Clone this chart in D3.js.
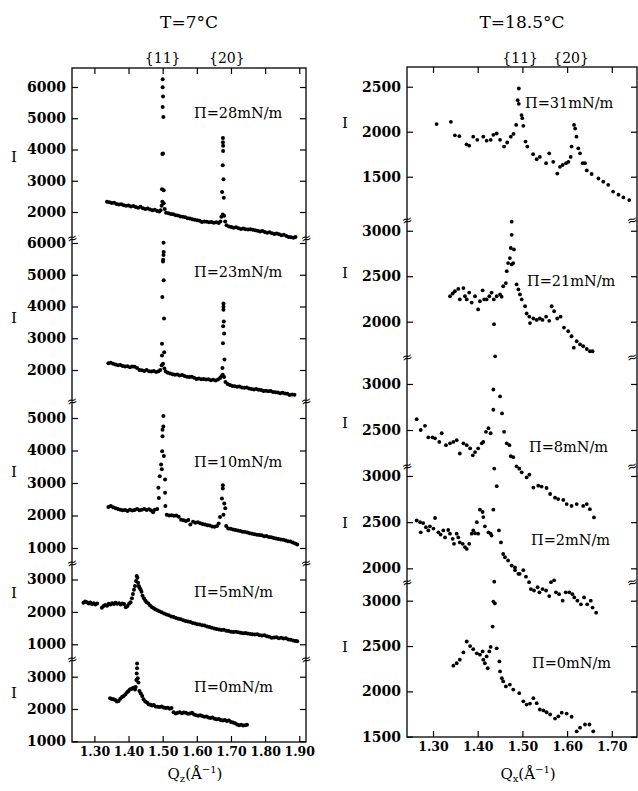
<!DOCTYPE html>
<html>
<head>
<meta charset="utf-8">
<script src="https://cdnjs.cloudflare.com/ajax/libs/d3/7.8.5/d3.min.js"></script>
<style>
body { margin: 0; background: #fff; }
text { font-family: "DejaVu Serif", serif; fill: #000; }
.ytk text { font-size: 14px; font-weight: bold; }
.xtk text { font-size: 12.5px; font-weight: bold; }
</style>
</head>
<body>
<svg id="fig" width="638" height="791"></svg>
<script>
// ---- data: [Qz, I] ----
var t7_p28 = [
[1.337,2330],[1.344,2310],[1.351,2290],[1.358,2300],[1.365,2260],[1.372,2240],[1.379,2250],[1.386,2220],[1.393,2200],[1.400,2210],
[1.407,2180],[1.414,2190],[1.421,2160],[1.428,2140],[1.435,2170],[1.442,2120],[1.449,2100],[1.456,2110],[1.463,2080],[1.470,2060],
[1.477,2070],[1.484,2030],[1.490,2020],[1.494,2060],[1.497,2200],[1.499,2330],[1.503,2280],[1.506,2100],
[1.498,2730],[1.503,2700],[1.499,3860],[1.501,3870],[1.502,5040],[1.500,5360],[1.501,5700],[1.500,5990],[1.500,6250],
[1.510,1980],[1.517,1960],[1.524,1940],[1.531,1930],[1.538,1900],[1.545,1890],[1.552,1860],[1.559,1850],[1.566,1830],[1.573,1800],
[1.580,1790],[1.587,1770],[1.594,1750],[1.601,1740],[1.608,1720],[1.615,1680],[1.622,1700],[1.629,1690],[1.636,1670],[1.643,1680],
[1.650,1660],[1.657,1670],[1.664,1650],[1.669,1700],[1.672,1850],[1.676,1920],[1.680,1880],[1.683,1700],
[1.674,2640],[1.679,2460],[1.678,3050],[1.676,3500],[1.677,3950],[1.677,4120],[1.6765,4230],[1.6765,4370],
[1.687,1580],[1.694,1540],[1.701,1520],[1.708,1500],[1.715,1510],[1.722,1480],[1.729,1460],[1.736,1470],[1.743,1450],[1.750,1440],
[1.757,1450],[1.764,1430],[1.771,1420],[1.778,1400],[1.785,1380],[1.792,1390],[1.799,1360],[1.806,1340],[1.813,1350],[1.820,1320],
[1.827,1300],[1.834,1310],[1.841,1290],[1.848,1260],[1.855,1270],[1.862,1230],[1.869,1200],[1.876,1190],[1.883,1180],[1.889,1200]
];
var t7_p23 = [
[1.341,2210],[1.348,2230],[1.355,2200],[1.362,2170],[1.369,2150],[1.376,2160],[1.383,2130],[1.390,2110],[1.397,2120],[1.404,2090],
[1.411,2110],[1.418,2100],[1.425,2060],[1.432,2000],[1.439,1990],[1.446,1970],[1.453,2000],[1.460,1960],[1.467,1950],[1.474,1970],
[1.481,1940],[1.488,1960],[1.493,2000],[1.497,2150],[1.501,2200],[1.505,2050],
[1.498,2460],[1.5045,2560],[1.498,2830],[1.504,3620],[1.499,4300],[1.503,4830],[1.501,5420],[1.5015,5470],[1.5025,5620],[1.503,5720],[1.5025,6010],
[1.509,1950],[1.515,1910],[1.522,1890],[1.529,1870],[1.536,1850],[1.543,1860],[1.550,1830],[1.557,1840],[1.564,1810],[1.571,1790],
[1.578,1780],[1.585,1790],[1.592,1760],[1.599,1720],[1.606,1730],[1.613,1710],[1.620,1720],[1.627,1700],[1.634,1710],[1.641,1680],
[1.648,1690],[1.655,1670],[1.662,1700],[1.668,1750],[1.672,1800],[1.676,1850],[1.680,1780],[1.684,1620],
[1.675,2060],[1.681,2330],[1.6765,2840],[1.680,3150],[1.677,3380],[1.679,3530],[1.678,3900],[1.678,3990],[1.678,4095],
[1.690,1560],[1.697,1530],[1.704,1500],[1.711,1490],[1.718,1470],[1.725,1480],[1.732,1450],[1.739,1440],[1.746,1450],[1.753,1420],
[1.760,1400],[1.767,1390],[1.774,1400],[1.781,1380],[1.788,1370],[1.795,1340],[1.802,1350],[1.809,1330],[1.816,1340],[1.823,1310],
[1.830,1300],[1.837,1290],[1.844,1270],[1.851,1280],[1.858,1260],[1.865,1250],[1.872,1210],[1.879,1230],[1.886,1220]
];
var t7_p10 = [
[1.341,2260],[1.348,2290],[1.355,2250],[1.362,2220],[1.369,2200],[1.376,2180],[1.383,2160],[1.390,2170],[1.397,2140],[1.404,2180],
[1.411,2150],[1.418,2170],[1.425,2200],[1.432,2160],[1.439,2180],[1.446,2200],[1.453,2170],[1.460,2190],[1.466,2150],[1.472,2100],
[1.477,2180],[1.484,2200],[1.4888,2540],[1.4875,2850],[1.4915,3210],[1.4955,3570],[1.4975,3420],[1.4985,3980],[1.4995,4440],
[1.4995,4640],[1.502,4740],[1.502,5060],[1.5035,3830],[1.507,3110],[1.507,2700],[1.508,2290],
[1.512,2020],[1.519,2000],[1.526,2010],[1.533,1990],[1.540,2000],[1.547,1960],[1.554,1870],[1.561,1850],[1.568,1830],[1.581,1720],
[1.575,1860],[1.589,1810],[1.596,1780],[1.603,1790],[1.610,1760],[1.617,1740],[1.624,1720],[1.631,1700],[1.638,1690],[1.645,1660],
[1.652,1650],[1.659,1680],[1.664,1750],[1.668,1950],[1.678,2020],[1.6833,2220],[1.6804,2370],[1.6735,2520],[1.676,2830],[1.6763,2930],
[1.686,1680],[1.692,1600],[1.699,1590],[1.706,1570],[1.713,1550],[1.720,1540],[1.727,1520],[1.734,1500],[1.741,1490],[1.748,1480],
[1.755,1450],[1.762,1440],[1.769,1420],[1.776,1410],[1.783,1400],[1.790,1390],[1.797,1360],[1.804,1370],[1.811,1340],[1.818,1330],
[1.825,1310],[1.832,1290],[1.839,1280],[1.846,1260],[1.853,1250],[1.860,1230],[1.867,1210],[1.874,1200],[1.881,1170],[1.888,1140],[1.894,1110]
];
var t7_p5 = [
[1.268,2280],[1.273,2320],[1.278,2300],[1.283,2260],[1.288,2290],[1.293,2240],[1.298,2270],[1.303,2230],[1.308,2260],[1.322,2130],
[1.327,2180],[1.332,2210],[1.337,2190],[1.342,2250],[1.347,2230],[1.352,2270],[1.357,2240],[1.362,2280],[1.367,2250],[1.372,2270],
[1.377,2230],[1.382,2260],[1.387,2240],[1.392,2140],[1.397,2180],[1.402,2260],[1.406,2300],[1.410,2420],[1.413,2550],[1.416,2680],
[1.419,2800],[1.422,2950],[1.424,3110],[1.426,3050],[1.428,2900],[1.430,2800],[1.432,2750],[1.435,2700],[1.438,2620],[1.441,2500],
[1.445,2420],[1.449,2350],[1.453,2300],[1.458,2260],[1.463,2200],[1.468,2150],[1.473,2120],[1.478,2080],[1.484,2050],[1.490,2020],
[1.497,1990],[1.504,1950],[1.511,1920],[1.518,1900],[1.525,1860],[1.532,1840],[1.539,1810],[1.546,1790],[1.553,1770],[1.560,1740],
[1.567,1720],[1.574,1700],[1.581,1690],[1.588,1660],[1.595,1640],[1.602,1620],[1.609,1610],[1.616,1590],[1.623,1580],[1.630,1550],
[1.637,1530],[1.644,1510],[1.651,1490],[1.658,1470],[1.665,1460],[1.672,1440],[1.679,1450],[1.686,1420],[1.693,1410],[1.700,1390],
[1.707,1380],[1.714,1390],[1.721,1370],[1.728,1360],[1.735,1340],[1.742,1350],[1.749,1330],[1.756,1320],[1.763,1310],[1.770,1300],
[1.777,1310],[1.784,1280],[1.791,1270],[1.798,1280],[1.805,1250],[1.812,1230],[1.819,1200],[1.826,1210],[1.833,1220],[1.840,1190],
[1.847,1200],[1.854,1180],[1.861,1190],[1.868,1150],[1.875,1140],[1.882,1120],[1.889,1100],[1.894,1090]
];
var t7_p0 = [
[1.346,2330],[1.351,2310],[1.356,2300],[1.361,2280],[1.366,2230],[1.371,2250],[1.376,2320],[1.381,2370],[1.386,2400],[1.391,2460],
[1.396,2520],[1.400,2560],[1.404,2600],[1.408,2620],[1.412,2640],[1.416,2660],[1.419,2600],[1.421,2680],[1.423,2900],[1.424,3100],
[1.425,3260],[1.425,3410],[1.427,2950],[1.429,2820],[1.432,2560],[1.436,2480],[1.440,2400],[1.444,2300],[1.449,2230],[1.454,2200],
[1.459,2150],[1.464,2130],[1.469,2110],[1.474,2120],[1.479,2080],[1.485,2070],[1.491,2060],[1.497,2080],[1.503,2050],[1.509,2030],
[1.515,2040],[1.521,2010],[1.526,2030],[1.532,1900],[1.538,1860],[1.544,1880],[1.550,1900],[1.556,1870],[1.562,1890],[1.568,1880],
[1.574,1850],[1.580,1860],[1.586,1880],[1.592,1830],[1.598,1810],[1.604,1790],[1.610,1810],[1.616,1780],[1.622,1760],[1.628,1770],
[1.634,1740],[1.640,1720],[1.646,1740],[1.652,1700],[1.658,1680],[1.664,1690],[1.670,1660],[1.676,1640],[1.682,1660],[1.688,1630],
[1.694,1640],[1.700,1600],[1.706,1580],[1.712,1560],[1.718,1520],[1.724,1500],[1.730,1510],[1.736,1490],[1.742,1500],[1.747,1510]
];

var t185_p31 = [
[1.308,2085],[1.340,2110],[1.349,1960],[1.359,1950],[1.375,1860],[1.381,1845],[1.390,1945],[1.399,1910],[1.4125,1945],[1.420,1900],
[1.429,1910],[1.435,1965],[1.4425,1980],[1.450,1910],[1.459,1835],[1.466,1880],[1.474,1945],[1.480,1975],[1.486,2075],[1.492,2480],
[1.4895,2350],[1.492,2310],[1.498,2185],[1.4998,2150],[1.502,2065],[1.507,1890],[1.511,1835],[1.524,1750],[1.532,1695],[1.539,1720],
[1.553,1650],[1.560,1760],[1.569,1665],[1.578,1535],[1.584,1610],[1.590,1630],[1.5975,1650],[1.603,1665],[1.608,1720],[1.610,1835],
[1.6155,2075],[1.618,2035],[1.621,1945],[1.625,1815],[1.629,1760],[1.635,1650],[1.640,1650],[1.644,1570],[1.655,1530],[1.670,1480],
[1.681,1445],[1.692,1410],[1.703,1335],[1.715,1300],[1.726,1270],[1.739,1240]
];
var t185_p21 = [
[1.338,2280],[1.344,2310],[1.349,2335],[1.3565,2360],[1.360,2245],[1.368,2370],[1.3715,2280],[1.3755,2245],[1.381,2320],[1.3865,2210],
[1.394,2280],[1.401,2135],[1.405,2225],[1.411,2345],[1.4145,2245],[1.420,2245],[1.426,2280],[1.431,2320],[1.436,2245],[1.4425,2280],
[1.450,2300],[1.4535,2275],[1.457,2390],[1.463,2425],[1.465,2555],[1.468,2645],[1.472,2700],[1.476,2630],[1.4795,2645],[1.474,2810],
[1.481,2795],[1.476,2955],[1.476,3100],[1.487,2410],[1.491,2355],[1.4945,2300],[1.4985,2245],[1.506,2170],[1.5095,2090],[1.5155,2055],
[1.517,1985],[1.5245,2035],[1.532,2020],[1.539,2035],[1.545,2020],[1.553,2055],[1.560,2010],[1.5655,2170],[1.571,2115],[1.578,2035],
[1.5855,2055],[1.593,1935],[1.6025,1895],[1.610,1840],[1.615,1715],[1.6215,1785],[1.629,1750],[1.636,1730],[1.644,1700],[1.651,1675],[1.657,1675]
];
var t185_p8 = [
[1.2635,2618],[1.2725,2500],[1.282,2545],[1.2895,2420],[1.299,2420],[1.3045,2410],[1.314,2370],[1.3195,2465],[1.329,2335],[1.338,2355],
[1.3455,2370],[1.353,2390],[1.360,2245],[1.368,2355],[1.3755,2335],[1.383,2300],[1.389,2225],[1.394,2260],[1.401,2300],[1.409,2355],
[1.4125,2370],[1.4185,2480],[1.424,2520],[1.429,2465],[1.435,2720],[1.435,2940],[1.4365,3650],[1.439,3300],[1.450,2865],[1.4545,2680],
[1.459,2480],[1.465,2355],[1.471,2335],[1.474,2215],[1.4795,2205],[1.487,2105],[1.493,2080],[1.4985,2040],[1.5095,1985],[1.5155,2015],
[1.5245,1875],[1.5355,1895],[1.543,1885],[1.554,1870],[1.562,1805],[1.573,1765],[1.580,1750],[1.5915,1740],[1.599,1695],[1.610,1675],
[1.6215,1695],[1.636,1675],[1.644,1695],[1.651,1640],[1.660,1550]
];
var t185_p2 = [
[1.2635,2518],[1.271,2500],[1.2725,2390],[1.278,2490],[1.284,2445],[1.2895,2410],[1.293,2455],[1.3045,2545],[1.301,2430],[1.312,2390],
[1.317,2365],[1.323,2410],[1.327,2335],[1.334,2415],[1.338,2375],[1.344,2320],[1.347,2265],[1.353,2375],[1.3565,2335],[1.360,2280],
[1.3665,2265],[1.3715,2230],[1.3755,2210],[1.381,2265],[1.3865,2375],[1.390,2410],[1.394,2380],[1.398,2500],[1.401,2375],[1.405,2635],
[1.411,2610],[1.4125,2555],[1.416,2455],[1.424,2390],[1.429,2375],[1.431,2355],[1.437,3080],[1.4425,2890],[1.435,2635],[1.4475,2410],
[1.452,2280],[1.457,2155],[1.461,2120],[1.468,2085],[1.476,2030],[1.4835,2010],[1.491,1940],[1.4835,1980],[1.494,1940],[1.502,1980],
[1.508,1910],[1.515,1850],[1.519,1775],[1.526,1760],[1.534,1795],[1.538,1740],[1.545,1775],[1.553,1760],[1.560,1700],[1.564,1850],
[1.571,1870],[1.575,1740],[1.582,1720],[1.590,1650],[1.597,1740],[1.605,1740],[1.612,1720],[1.616,1685],[1.623,1650],[1.631,1610],
[1.638,1685],[1.645,1610],[1.653,1650],[1.657,1575],[1.665,1520]
];
var t185_p0 = [
[1.3455,2283],[1.353,2310],[1.360,2350],[1.368,2430],[1.3755,2550],[1.383,2500],[1.390,2465],[1.398,2420],[1.405,2405],[1.411,2440],
[1.4125,2350],[1.416,2310],[1.420,2385],[1.4225,2255],[1.426,2440],[1.429,2490],[1.4335,2715],[1.435,2990],[1.4385,2970],[1.437,3210],
[1.4425,2475],[1.4485,2330],[1.450,2220],[1.454,2145],[1.457,2110],[1.463,2055],[1.472,2075],[1.4795,2020],[1.493,1980],[1.502,1890],
[1.5095,1855],[1.517,1865],[1.5245,1925],[1.532,1870],[1.539,1800],[1.547,1790],[1.554,1770],[1.562,1745],[1.573,1700],[1.5805,1725],
[1.588,1765],[1.599,1755],[1.610,1720],[1.6215,1560],[1.629,1600],[1.640,1635],[1.650,1635],[1.6585,1560]
];

var qTicksL = [1.30, 1.40, 1.50, 1.60, 1.70, 1.80, 1.90];
var qTicksR = [1.30, 1.40, 1.50, 1.60, 1.70];
var tagsL = [["{11}", 1.500], ["{20}", 1.688]];
var tagsR = [["{11}", 1.495], ["{20}", 1.609]];

// ---- layout ----
var svg = d3.select("#fig");

var columns = [
  { title: "T=7\u00B0C", sub: "z", x0: 72, x1: 306, dom: [1.2345, 1.9197], ticks: qTicksL, tags: tagsL,
    top: 68, bot: 742, ix: 14, r: 2.0, brk: 0,
    panels: [
      { data: t7_p28, y0: 68,  y1: 238, dom: [1168, 6608], ticks: [2000, 3000, 4000, 5000, 6000], label: "28", ly: 118, iy: 157 },
      { data: t7_p23, y0: 238, y1: 401, dom: [1024, 6157], ticks: [2000, 3000, 4000, 5000, 6000], label: "23", ly: 277, iy: 318 },
      { data: t7_p10, y0: 401, y1: 563, dom: [538, 5523],  ticks: [1000, 2000, 3000, 4000, 5000], label: "10", ly: 467, iy: 472 },
      { data: t7_p5,  y0: 563, y1: 659, dom: [546, 3509],  ticks: [1000, 2000, 3000], label: "5", ly: 597, iy: 593 },
      { data: t7_p0,  y0: 659, y1: 742, dom: [978, 3548],  ticks: [1000, 2000, 3000], label: "0", ly: 692, iy: 693 }
    ], lx: 194 },
  { title: "T=18.5\u00B0C", sub: "x", x0: 407, x1: 637, dom: [1.2418, 1.7564], ticks: qTicksR, tags: tagsR,
    top: 67, bot: 737, ix: 345, r: 1.9, brk: -5,
    panels: [
      { data: t185_p31, y0: 67,  y1: 220, dom: [1019, 2719], ticks: [1500, 2000, 2500], label: "31", ly: 108, iy: 123, lx: 525 },
      { data: t185_p21, y0: 220, y1: 357, dom: [1612, 3118], ticks: [2000, 2500, 3000], label: "21", ly: 286, iy: 273, lx: 527 },
      { data: t185_p8,  y0: 357, y1: 466, dom: [2109, 3293], ticks: [2500, 3000], label: "8", ly: 452, iy: 423, lx: 529 },
      { data: t185_p2,  y0: 466, y1: 582, dom: [1852, 3108], ticks: [2000, 2500, 3000], label: "2", ly: 545, iy: 523, lx: 531 },
      { data: t185_p0,  y0: 582, y1: 737, dom: [1497, 3206], ticks: [1500, 2000, 2500, 3000], label: "0", ly: 668, iy: 647, lx: 532 }
    ] }
];

columns.forEach(function (c) {
  var x = d3.scaleLinear().domain(c.dom).range([c.x0, c.x1]);
  var g = svg.append("g");

  // title and peak tags
  g.append("text").attr("x", (c.x0 + c.x1) / 2).attr("y", 28)
    .attr("text-anchor", "middle").attr("font-size", 17).text(c.title);
  g.selectAll(".tag").data(c.tags).enter().append("text")
    .attr("x", function (d) { return x(d[1]); }).attr("y", 63)
    .attr("text-anchor", "middle").attr("font-size", 14)
    .text(function (d) { return d[0]; });

  // frame
  g.append("rect").attr("x", c.x0).attr("y", c.top)
    .attr("width", c.x1 - c.x0).attr("height", c.bot - c.top)
    .attr("fill", "none").attr("stroke", "#000").attr("stroke-width", 1.3);

  // bottom and top axes
  g.append("g").attr("class", "xtk").attr("transform", "translate(0," + c.bot + ")")
    .call(d3.axisBottom(x).tickValues(c.ticks).tickSize(-6).tickPadding(5).tickFormat(d3.format(".2f")));
  g.append("g").attr("transform", "translate(0," + c.top + ")")
    .call(d3.axisTop(x).tickValues(c.ticks).tickSize(-6).tickFormat(""));

  // x title
  var xt = g.append("text").attr("x", (c.x0 + c.x1) / 2 + 6).attr("y", 779)
    .attr("text-anchor", "middle").attr("font-size", 15);
  xt.append("tspan").text("Q");
  xt.append("tspan").attr("font-size", 10).attr("dy", 3).text(c.sub);
  xt.append("tspan").attr("dy", -3).text("(\u00C5");
  xt.append("tspan").attr("font-size", 10).attr("dy", -6).text("\u22121");
  xt.append("tspan").attr("dy", 6).text(")");

  c.panels.forEach(function (p, i) {
    var y = d3.scaleLinear().domain(p.dom).range([p.y1, p.y0]);

    g.append("g").attr("class", "ytk").attr("transform", "translate(" + c.x0 + ",0)")
      .call(d3.axisLeft(y).tickValues(p.ticks).tickSize(-6).tickPadding(6).tickFormat(d3.format("d")));
    g.append("g").attr("transform", "translate(" + c.x1 + ",0)")
      .call(d3.axisRight(y).tickValues(p.ticks).tickSize(-6).tickFormat(""));

    g.append("text").attr("x", c.ix).attr("y", p.iy).attr("dy", "0.35em")
      .attr("text-anchor", "middle").attr("font-size", 15).text("I");

    g.append("text").attr("x", p.lx || c.lx).attr("y", p.ly).attr("font-size", 14.5)
      .text("\u03A0=" + p.label + "mN/m");

    g.append("g").selectAll("circle").data(p.data).enter().append("circle")
      .attr("cx", function (d) { return x(d[0]); })
      .attr("cy", function (d) { return y(d[1]); })
      .attr("r", c.r).attr("fill", "#000");

    // axis break marks between panels
    if (i > 0) {
      [c.x0, c.x1 + c.brk].forEach(function (bx) {
        g.append("text").attr("x", bx).attr("y", p.y0).attr("dy", "0.35em")
          .attr("text-anchor", "middle").attr("font-size", 13)
          .attr("transform", "rotate(-15," + bx + "," + p.y0 + ")").text("\u2248");
      });
    }
  });

  g.selectAll(".domain").remove();
  g.selectAll(".tick line").attr("stroke", "#000").attr("stroke-width", 1.2);
});
</script>
</body>
</html>
